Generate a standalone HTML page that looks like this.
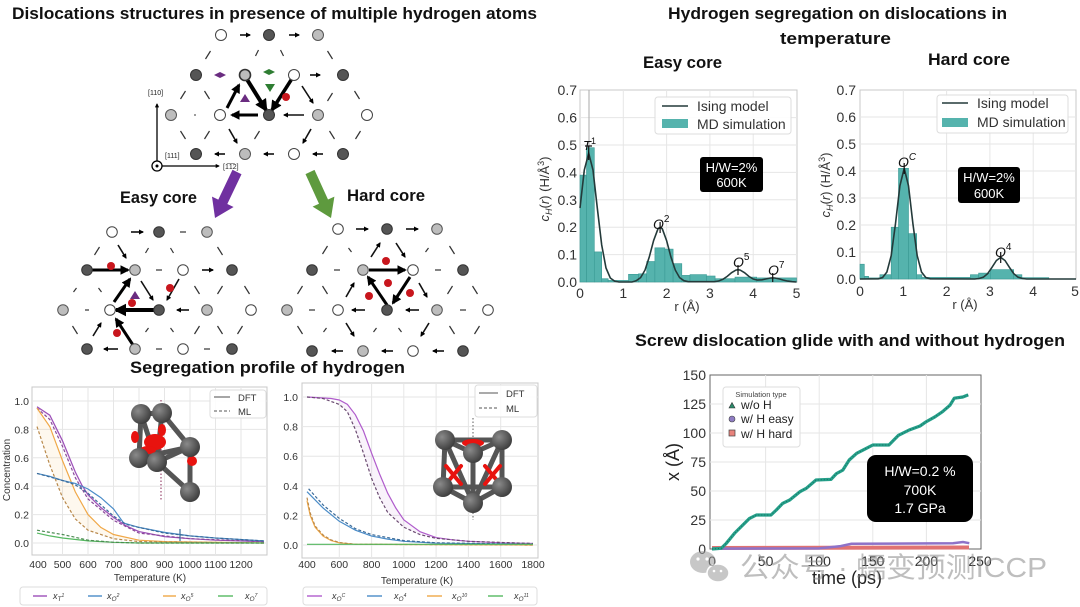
<!DOCTYPE html>
<html><head><meta charset="utf-8"><style>
html,body{margin:0;padding:0;background:#fff;}
svg{display:block;font-family:"Liberation Sans","Noto Sans CJK SC",sans-serif;}
.w{fill:#fff;stroke:#444;stroke-width:1}
.d{fill:#555;stroke:#333;stroke-width:1}
.l{fill:#bdbdbd;stroke:#555;stroke-width:1}
.s{stroke:#333;stroke-width:1.2;fill:none}
.t{stroke:#000;stroke-width:3;fill:none;marker-end:url(#ah)}
.m{stroke:#111;stroke-width:1.6;fill:none;marker-end:url(#ah)}
.g{stroke:#e6e6e6;stroke-width:1;fill:none}
.tk{font-size:14px;fill:#333}
.tb{font-size:10.5px;fill:#333}
.ttl{font-weight:bold;font-size:17px;fill:#111}
</style></head><body>
<svg width="1080" height="607" viewBox="0 0 1080 607" xmlns="http://www.w3.org/2000/svg">
<defs>
<marker id="ah" viewBox="0 0 10 10" refX="8" refY="5" markerWidth="3.2" markerHeight="3.2" orient="auto"><path d="M0,0 L10,5 L0,10 z" fill="#000"/></marker>
<radialGradient id="atom" cx="0.35" cy="0.35" r="0.7"><stop offset="0" stop-color="#8a8a8a"/><stop offset="1" stop-color="#3c3c3c"/></radialGradient>
</defs>
<rect width="1080" height="607" fill="#fff"/>

<!-- ============ TITLES ============ -->
<text class="ttl" x="12" y="19" textLength="525" lengthAdjust="spacingAndGlyphs">Dislocations  structures in presence of multiple hydrogen atoms</text>
<text class="ttl" x="668" y="19" textLength="339" lengthAdjust="spacingAndGlyphs">Hydrogen segregation on dislocations in</text>
<text class="ttl" x="780" y="44" textLength="111" lengthAdjust="spacingAndGlyphs">temperature</text>
<text class="ttl" x="643" y="68" textLength="79" lengthAdjust="spacingAndGlyphs">Easy core</text>
<text class="ttl" x="928" y="65" textLength="82" lengthAdjust="spacingAndGlyphs">Hard core</text>
<text class="ttl" x="120" y="203" textLength="77" lengthAdjust="spacingAndGlyphs">Easy core</text>
<text class="ttl" x="347" y="201" textLength="78" lengthAdjust="spacingAndGlyphs">Hard core</text>
<text class="ttl" x="130" y="373" textLength="275" lengthAdjust="spacingAndGlyphs">Segregation profile of hydrogen</text>
<text class="ttl" x="635" y="346" textLength="430" lengthAdjust="spacingAndGlyphs">Screw dislocation glide with and without hydrogen</text>

<!-- ============ TOP LATTICE ============ -->
<g>
<line class="m" x1="240" y1="35" x2="250" y2="35"/>
<line class="m" x1="289" y1="35" x2="299" y2="35"/>
<line class="s" x1="205.5" y1="59" x2="210.5" y2="51"/>
<line class="s" x1="255.5" y1="56" x2="258.5" y2="50"/>
<line class="s" x1="280.5" y1="50" x2="283.5" y2="56"/>
<line class="s" x1="327.5" y1="51" x2="332.5" y2="59"/>
<line class="m" x1="310" y1="75" x2="320" y2="75"/>
<line class="s" x1="180.5" y1="99" x2="185.5" y2="91"/>
<line class="s" x1="204.5" y1="91" x2="209.5" y2="99"/>
<line class="m" x1="302" y1="86" x2="313" y2="103"/>
<line class="s" x1="327.5" y1="101" x2="332.5" y2="93"/>
<line class="s" x1="354.5" y1="91" x2="359.5" y2="99"/>
<line class="t" x1="227" y1="108" x2="239" y2="85"/>
<line class="t" x1="243" y1="73" x2="266" y2="110" style="stroke-width:4"/>
<line class="t" x1="293" y1="77" x2="272" y2="110" style="stroke-width:3.5"/>
<line class="t" x1="258" y1="115" x2="232" y2="115"/>
<line class="m" x1="304" y1="115" x2="284" y2="115"/>
<circle cx="195" cy="115" r="0.9" fill="#555"/>
<line class="s" x1="180.5" y1="131" x2="185.5" y2="139"/>
<line class="s" x1="204.5" y1="139" x2="209.5" y2="131"/>
<line class="m" x1="229" y1="129" x2="237" y2="143"/>
<line class="s" x1="254.5" y1="139" x2="259.5" y2="131"/>
<line class="m" x1="311" y1="129" x2="303" y2="143"/>
<line class="s" x1="329.5" y1="131" x2="334.5" y2="139"/>
<line class="s" x1="355.5" y1="139" x2="360.5" y2="131"/>
<line class="m" x1="225" y1="154" x2="215" y2="154"/>
<line class="m" x1="274" y1="154" x2="264" y2="154"/>
<line class="m" x1="323" y1="154" x2="313" y2="154"/>
<path d="M214,75 L220,72 L226,75 L220,78 z" fill="#6a2c80"/>
<path d="M263,72 L269,69 L275,72 L269,75 z" fill="#2e7d32"/>
<path d="M265,84 L275,84 L270,92 z" fill="#2e7d32"/>
<path d="M240,102 L250,102 L245,94 z" fill="#6a2c80"/>
<circle cx="286" cy="97" r="4" fill="#c8161d"/>
<circle class="w" cx="221" cy="35" r="5.5"/><circle class="d" cx="269" cy="35" r="5.5"/><circle class="l" cx="318" cy="35" r="5.5"/>
<circle class="d" cx="196" cy="75" r="5.5"/><circle class="l" cx="245" cy="75" r="5.5" style="stroke:#333;stroke-width:1.6"/><circle class="w" cx="294" cy="75" r="5.5"/><circle class="d" cx="343" cy="75" r="5.5"/>
<circle class="l" cx="171" cy="115" r="5.5"/><circle class="w" cx="220" cy="115" r="5.5"/><circle class="d" cx="269" cy="115" r="5.5"/><circle class="l" cx="318" cy="115" r="5.5"/><circle class="w" cx="367" cy="115" r="5.5"/>
<circle class="d" cx="196" cy="154" r="5.5"/><circle class="l" cx="245" cy="154" r="5.5"/><circle class="w" cx="294" cy="154" r="5.5"/><circle class="d" cx="343" cy="154" r="5.5"/>
<line x1="157" y1="166" x2="157" y2="104" stroke="#000" stroke-width="1.3" marker-end="url(#ah)"/>
<line x1="157" y1="166" x2="219" y2="166" stroke="#000" stroke-width="1.3" marker-end="url(#ah)"/>
<circle cx="157" cy="166" r="5" fill="#fff" stroke="#000" stroke-width="1.3"/>
<circle cx="157" cy="166" r="1.5" fill="#000"/>
<text x="148" y="95" font-size="7" fill="#222">[110]</text>
<text x="165" y="158" font-size="7" fill="#222">[111]</text>
<text x="223" y="169" font-size="7" fill="#222">[1̅1̅2]</text>
</g>

<polygon points="241.5,174.2 227.3,204 233.6,207 215,218 212,196.6 218.3,199.6 232.5,169.8" fill="#7030a0"/>
<polygon points="314.5,169.9 328,199.5 334.4,196.6 331,218 312.6,206.6 319,203.7 305.5,174.1" fill="#5e9a3e"/>

<!-- ============ EASY CORE LATTICE ============ -->
<g>
<line class="m" x1="131" y1="232" x2="143" y2="232"/>
<line class="s" x1="180" y1="232" x2="186" y2="232"/>
<line class="s" x1="94.5" y1="255" x2="99.5" y2="247"/>
<line class="m" x1="118" y1="245" x2="126" y2="258"/>
<line class="s" x1="145.5" y1="253" x2="148.5" y2="248"/>
<line class="s" x1="170.5" y1="248" x2="173.5" y2="253"/>
<line class="s" x1="217.5" y1="247" x2="222.5" y2="255"/>
<line class="t" x1="92" y1="270" x2="128" y2="270"/>
<line class="s" x1="156" y1="270" x2="162" y2="270"/>
<line class="m" x1="202" y1="270" x2="213" y2="270"/>
<line class="s" x1="73.5" y1="292" x2="76.5" y2="288"/>
<line class="s" x1="98.5" y1="288" x2="101.5" y2="292"/>
<line class="t" x1="114" y1="302" x2="130" y2="279"/>
<line class="m" x1="141" y1="281" x2="153" y2="300"/>
<line class="m" x1="179" y1="279" x2="167" y2="300"/>
<line class="s" x1="194.5" y1="286" x2="199.5" y2="294"/>
<line class="s" x1="217.5" y1="294" x2="222.5" y2="286"/>
<line class="s" x1="244.5" y1="286" x2="249.5" y2="294"/>
<line class="s" x1="85" y1="310" x2="89" y2="310"/>
<line class="t" x1="156" y1="310" x2="116" y2="310" style="stroke-width:4"/>
<line class="m" x1="189" y1="310" x2="177" y2="310"/>
<line class="s" x1="72.5" y1="326" x2="77.5" y2="334"/>
<line class="m" x1="93" y1="336" x2="101" y2="323"/>
<line class="t" x1="133" y1="345" x2="116" y2="319"/>
<line class="s" x1="145.5" y1="332" x2="148.5" y2="328"/>
<line class="s" x1="170.5" y1="328" x2="173.5" y2="332"/>
<line class="s" x1="194.5" y1="334" x2="199.5" y2="326"/>
<line class="s" x1="217.5" y1="326" x2="222.5" y2="334"/>
<line class="s" x1="237.5" y1="334" x2="242.5" y2="326"/>
<line class="m" x1="118" y1="349" x2="104" y2="349"/>
<line class="s" x1="156" y1="349" x2="162" y2="349"/>
<line class="s" x1="204" y1="349" x2="210" y2="349"/>
<circle cx="111" cy="266" r="4" fill="#c8161d"/>
<circle cx="170" cy="288" r="4" fill="#c8161d"/>
<circle cx="132" cy="303" r="4" fill="#c8161d"/>
<circle cx="117" cy="333" r="4" fill="#c8161d"/>
<path d="M130,299 L140,299 L135,291 z" fill="#6a2c80"/>
<circle class="w" cx="112" cy="232" r="5.3"/><circle class="d" cx="159" cy="232" r="5.3"/><circle class="l" cx="207" cy="232" r="5.3"/>
<circle class="d" cx="87" cy="270" r="5.3"/><circle class="l" cx="135" cy="270" r="5.3"/><circle class="w" cx="183" cy="270" r="5.3"/><circle class="d" cx="232" cy="270" r="5.3"/>
<circle class="l" cx="63" cy="310" r="5.3"/><circle class="w" cx="110" cy="310" r="5.3"/><circle class="d" cx="159" cy="310" r="5.3"/><circle class="l" cx="207" cy="310" r="5.3"/><circle class="w" cx="251" cy="310" r="5.3"/>
<circle class="d" cx="87" cy="349" r="5.3"/><circle class="l" cx="135" cy="349" r="5.3"/><circle class="w" cx="183" cy="349" r="5.3"/><circle class="d" cx="232" cy="349" r="5.3"/>
</g>

<!-- ============ HARD CORE LATTICE ============ -->
<g>
<line class="m" x1="356" y1="229" x2="368" y2="229"/>
<line class="m" x1="406" y1="229" x2="418" y2="229"/>
<line class="s" x1="322.5" y1="254" x2="327.5" y2="246"/>
<line class="s" x1="348.5" y1="248" x2="351.5" y2="252"/>
<line class="m" x1="371" y1="257" x2="380" y2="243"/>
<line class="m" x1="396" y1="243" x2="405" y2="257"/>
<line class="s" x1="425.5" y1="252" x2="428.5" y2="248"/>
<line class="s" x1="449.5" y1="246" x2="454.5" y2="254"/>
<line class="s" x1="334" y1="270" x2="340" y2="270"/>
<line class="t" x1="369" y1="270" x2="405" y2="270"/>
<line class="s" x1="435" y1="270" x2="441" y2="270"/>
<line class="s" x1="297.5" y1="294" x2="302.5" y2="286"/>
<line class="s" x1="322.5" y1="286" x2="327.5" y2="294"/>
<line class="m" x1="346" y1="297" x2="354" y2="283"/>
<line class="t" x1="387" y1="305" x2="368" y2="277"/>
<line class="t" x1="410" y1="277" x2="393" y2="303"/>
<line class="m" x1="419" y1="283" x2="427" y2="297"/>
<line class="s" x1="447.5" y1="294" x2="452.5" y2="286"/>
<line class="s" x1="472.5" y1="286" x2="477.5" y2="294"/>
<line class="s" x1="309" y1="310" x2="315" y2="310"/>
<line class="m" x1="365" y1="310" x2="352" y2="310"/>
<line class="m" x1="419" y1="310" x2="406" y2="310"/>
<line class="s" x1="460" y1="310" x2="466" y2="310"/>
<line class="s" x1="297.5" y1="326" x2="302.5" y2="334"/>
<line class="s" x1="323.5" y1="332" x2="326.5" y2="328"/>
<line class="m" x1="346" y1="323" x2="354" y2="336"/>
<line class="s" x1="373.5" y1="332" x2="376.5" y2="328"/>
<line class="s" x1="398.5" y1="328" x2="401.5" y2="332"/>
<line class="m" x1="429" y1="323" x2="421" y2="336"/>
<line class="s" x1="449.5" y1="326" x2="454.5" y2="334"/>
<line class="s" x1="474.5" y1="334" x2="479.5" y2="326"/>
<line class="m" x1="343" y1="351" x2="332" y2="351"/>
<line class="m" x1="393" y1="351" x2="382" y2="351"/>
<line class="m" x1="444" y1="351" x2="433" y2="351"/>
<circle cx="386" cy="261" r="4" fill="#c8161d"/>
<circle cx="388" cy="283" r="4" fill="#c8161d"/>
<circle cx="369" cy="296" r="4" fill="#c8161d"/>
<circle cx="410" cy="293" r="4" fill="#c8161d"/>
<circle class="w" cx="338" cy="229" r="5.3"/><circle class="d" cx="387" cy="229" r="5.3"/><circle class="l" cx="437" cy="229" r="5.3"/>
<circle class="d" cx="312" cy="270" r="5.3"/><circle class="l" cx="363" cy="270" r="5.3"/><circle class="w" cx="413" cy="270" r="5.3"/><circle class="d" cx="463" cy="270" r="5.3"/>
<circle class="l" cx="287" cy="310" r="5.3"/><circle class="w" cx="338" cy="310" r="5.3"/><circle class="d" cx="387" cy="310" r="5.3"/><circle class="l" cx="437" cy="310" r="5.3"/><circle class="w" cx="488" cy="310" r="5.3"/>
<circle class="d" cx="312" cy="351" r="5.3"/><circle class="l" cx="363" cy="351" r="5.3"/><circle class="w" cx="413" cy="351" r="5.3"/><circle class="d" cx="463" cy="351" r="5.3"/>
</g>

<!-- ============ BOTTOM-LEFT CHART 1 ============ -->
<g>
<rect x="32" y="387" width="235" height="168" fill="#fff" stroke="#c8c8c8"/>
<g class="g">
<line x1="62.5" y1="387" x2="62.5" y2="555"/><line x1="88" y1="387" x2="88" y2="555"/><line x1="113.5" y1="387" x2="113.5" y2="555"/><line x1="139" y1="387" x2="139" y2="555"/><line x1="164.5" y1="387" x2="164.5" y2="555"/><line x1="190" y1="387" x2="190" y2="555"/><line x1="215.5" y1="387" x2="215.5" y2="555"/><line x1="241" y1="387" x2="241" y2="555"/>
<line x1="32" y1="401" x2="267" y2="401"/><line x1="32" y1="429.4" x2="267" y2="429.4"/><line x1="32" y1="457.8" x2="267" y2="457.8"/><line x1="32" y1="486.2" x2="267" y2="486.2"/><line x1="32" y1="514.6" x2="267" y2="514.6"/><line x1="32" y1="543" x2="267" y2="543"/>
</g>
<g class="tb" text-anchor="end">
<text x="29" y="405">1.0</text><text x="29" y="433.4">0.8</text><text x="29" y="461.8">0.6</text><text x="29" y="490.2">0.4</text><text x="29" y="518.6">0.2</text><text x="29" y="547">0.0</text>
</g>
<g class="tb" text-anchor="middle">
<text x="38" y="568">400</text><text x="62.5" y="568">500</text><text x="88" y="568">600</text><text x="113.5" y="568">700</text><text x="139" y="568">800</text><text x="164.5" y="568">900</text><text x="190" y="568">1000</text><text x="215.5" y="568">1100</text><text x="241" y="568">1200</text>
</g>
<text x="150" y="581" font-size="10" fill="#333" text-anchor="middle">Temperature (K)</text>
<text transform="translate(10,470) rotate(-90)" font-size="10" fill="#333" text-anchor="middle">Concentration</text>
<polygon points="37,408.1 49.8,426.6 62.5,460.6 75.3,491.9 88,514.6 100.8,527.4 113.5,534.5 139,540.2 139,541.6 113.5,538.7 88,530.2 75.3,518.9 62.5,497.6 49.8,464.9 37,426.6" fill="#f5a623" opacity="0.08"/>
<polygon points="37,406.7 49.8,415.2 62.5,440.8 75.3,472 88,494.7 113.5,517.4 139,531.6 139,533.1 113.5,520.3 88,499 75.3,477.7 62.5,446.4 49.8,419.5 37,408.1" fill="#b06ad0" opacity="0.08"/>
<g fill="none" stroke-width="1.2">
<path stroke="#9c4fb8" d="M37,406.7 L49.8,415.2 L62.5,440.8 L75.3,472 L81.7,484.8 L88,494.7 L100.8,507.5 L113.5,517.4 L126.3,526 L139,531.6 L164.5,536.6 L190,538.7 L215.5,540.2 L264,541.6"/>
<path stroke="#8a4a9a" stroke-dasharray="3,2" d="M37,408.1 L49.8,419.5 L62.5,446.4 L75.3,477.7 L88,499 L113.5,520.3 L139,533.1 L190,538.7 L264,541.6"/>
<path stroke="#f0a848" d="M37,408.1 L49.8,426.6 L62.5,460.6 L75.3,491.9 L88,514.6 L100.8,527.4 L113.5,534.5 L139,540.2 L164.5,541.6 L264,543"/>
<path stroke="#b8884a" stroke-dasharray="3,2" d="M37,426.6 L49.8,464.9 L62.5,497.6 L75.3,518.9 L88,530.2 L113.5,538.7 L139,541.6 L264,543"/>
<path stroke="#4a8cc8" d="M37,473.4 L49.8,476.3 L62.5,480.5 L75.3,483.4 L88,489 L100.8,497.6 L113.5,508.9 L123.7,523.1 L139,527.4 L164.5,532.4 L190,535.9 L215.5,538 L264,540.9"/>
<path stroke="#3a6a98" stroke-dasharray="3,2" d="M37,473.4 L62.5,480.5 L75.3,484.8 L88,493.3 L100.8,504.7 L113.5,516 L126.3,524.5 L139,527.4 L164.5,533.1 L190,535.9 L215.5,538 L264,540.9"/>
<path stroke="#55b860" d="M37,533.1 L49.8,535.9 L62.5,538 L88,540.9 L113.5,542.3 L139,543 L264,543"/>
<path stroke="#4a8a50" stroke-dasharray="3,2" d="M37,530.2 L49.8,532.4 L62.5,534.5 L75.3,537.3 L88,540.2 L113.5,542.3 L139,543 L264,543"/>
<line x1="180" y1="529" x2="180" y2="541" stroke="#3a6a98"/>
</g>
<line x1="161" y1="400" x2="161" y2="500" stroke="#9a4a70" stroke-width="1.2" stroke-dasharray="1.5,2"/>
<g stroke="#555" stroke-width="5" stroke-linecap="round">
<line x1="141" y1="414" x2="162" y2="413"/><line x1="141" y1="414" x2="139" y2="458"/><line x1="141" y1="414" x2="157" y2="462"/><line x1="162" y1="413" x2="190" y2="447"/><line x1="162" y1="413" x2="157" y2="462"/><line x1="139" y1="458" x2="157" y2="462"/><line x1="190" y1="447" x2="157" y2="462"/><line x1="190" y1="447" x2="190" y2="492"/><line x1="157" y1="462" x2="190" y2="492"/><line x1="139" y1="458" x2="190" y2="447"/>
</g>
<g fill="#e8130f">
<ellipse cx="155" cy="442" rx="11" ry="8"/><ellipse cx="148" cy="450" rx="8" ry="4"/><ellipse cx="135" cy="437" rx="4" ry="6"/><ellipse cx="192" cy="461" rx="5" ry="5"/><ellipse cx="162" cy="430" rx="4" ry="6"/>
</g>
<g fill="url(#atom)">
<circle cx="141" cy="414" r="10"/><circle cx="162" cy="413" r="10"/><circle cx="190" cy="447" r="10"/><circle cx="139" cy="458" r="10"/><circle cx="157" cy="462" r="10"/><circle cx="190" cy="492" r="10"/>
</g>
<rect x="210" y="390" width="56" height="28" rx="3" fill="#fff" fill-opacity="0.85" stroke="#ddd"/>
<line x1="214" y1="397" x2="230" y2="397" stroke="#777" stroke-width="1.3"/>
<line x1="214" y1="411" x2="230" y2="411" stroke="#777" stroke-width="1.3" stroke-dasharray="3,2"/>
<text x="238" y="401" font-size="9.5" fill="#333">DFT</text>
<text x="238" y="415" font-size="9.5" fill="#333">ML</text>
<rect x="20" y="587" width="247" height="18" rx="3" fill="#fff" stroke="#ddd"/>
<g stroke-width="1.4">
<line x1="33" y1="596" x2="47" y2="596" stroke="#9c4fb8"/><line x1="88" y1="596" x2="102" y2="596" stroke="#4a8cc8"/><line x1="163" y1="596" x2="176" y2="596" stroke="#f0a848"/><line x1="218" y1="596" x2="233" y2="596" stroke="#55b860"/>
</g>
<g font-size="9" fill="#333" font-style="italic">
<text x="53" y="599">x<tspan font-size="6.5" dy="2">T</tspan><tspan font-size="5" dy="-4">1</tspan></text>
<text x="107" y="599">x<tspan font-size="6.5" dy="2">O</tspan><tspan font-size="5" dy="-4">2</tspan></text>
<text x="181" y="599">x<tspan font-size="6.5" dy="2">O</tspan><tspan font-size="5" dy="-4">5</tspan></text>
<text x="245" y="599">x<tspan font-size="6.5" dy="2">O</tspan><tspan font-size="5" dy="-4">7</tspan></text>
</g>
</g>

<!-- ============ BOTTOM-LEFT CHART 2 ============ -->
<g>
<rect x="302" y="383" width="236" height="175" fill="#fff" stroke="#c8c8c8"/>
<g class="g">
<line x1="339.3" y1="383" x2="339.3" y2="558"/><line x1="371.6" y1="383" x2="371.6" y2="558"/><line x1="403.8" y1="383" x2="403.8" y2="558"/><line x1="436.1" y1="383" x2="436.1" y2="558"/><line x1="468.4" y1="383" x2="468.4" y2="558"/><line x1="500.7" y1="383" x2="500.7" y2="558"/>
<line x1="302" y1="397" x2="538" y2="397"/><line x1="302" y1="426.6" x2="538" y2="426.6"/><line x1="302" y1="456.2" x2="538" y2="456.2"/><line x1="302" y1="485.8" x2="538" y2="485.8"/><line x1="302" y1="515.4" x2="538" y2="515.4"/><line x1="302" y1="545" x2="538" y2="545"/>
</g>
<g class="tb" text-anchor="end">
<text x="298" y="401">1.0</text><text x="298" y="430.6">0.8</text><text x="298" y="460.2">0.6</text><text x="298" y="489.8">0.4</text><text x="298" y="519.4">0.2</text><text x="298" y="549">0.0</text>
</g>
<g class="tb" text-anchor="middle">
<text x="307" y="568">400</text><text x="339.3" y="568">600</text><text x="371.6" y="568">800</text><text x="403.8" y="568">1000</text><text x="436.1" y="568">1200</text><text x="468.4" y="568">1400</text><text x="500.7" y="568">1600</text><text x="533" y="568">1800</text>
</g>
<text x="417" y="584" font-size="10" fill="#333" text-anchor="middle">Temperature (K)</text>
<polygon points="339.3,400 347.4,404.4 355.4,414.8 363.5,431 371.6,453.2 379.6,474 387.7,493.2 395.8,508 403.8,519.8 420,531.7 436.1,537.6 436.1,538.3 420,534.6 403.8,527.2 387.7,512.4 379.6,497.6 371.6,478.4 363.5,453.2 355.4,429.6 347.4,411.8 339.3,404.4" fill="#b06ad0" opacity="0.08"/>
<g fill="none" stroke-width="1.2">
<path stroke="#b05ccc" d="M307,397 L331.2,398.5 L339.3,400 L347.4,404.4 L355.4,414.8 L363.5,431 L371.6,453.2 L379.6,474 L387.7,493.2 L395.8,508 L403.8,519.8 L420,531.7 L436.1,537.6 L452.3,539.8 L468.4,541.3 L500.7,542.8 L533,543.5"/>
<path stroke="#6a4a70" stroke-dasharray="3,2" d="M307,397 L323.1,398.5 L339.3,404.4 L347.4,411.8 L355.4,429.6 L363.5,453.2 L371.6,478.4 L379.6,497.6 L387.7,512.4 L403.8,527.2 L420,534.6 L436.1,538.3 L468.4,541.3 L533,543.5"/>
<path stroke="#4a8cc8" d="M307,491.7 L323.1,508 L339.3,521.3 L355.4,530.2 L371.6,536.1 L387.7,539.1 L403.8,541.3 L436.1,543.2 L533,544.3"/>
<path stroke="#3a6a98" stroke-dasharray="3,2" d="M308.6,488.8 L323.1,505 L339.3,518.4 L355.4,528.7 L371.6,534.6 L403.8,540.6 L436.1,542.8 L533,544.3"/>
<path stroke="#f0a848" d="M307,500.6 L310.2,515.4 L315.1,527.2 L323.1,536.1 L331.2,540.6 L339.3,542.8 L355.4,544.3 L533,545"/>
<path stroke="#b8884a" stroke-dasharray="3,2" d="M307,497.6 L310.2,513 L315.1,526 L323.1,535 L331.2,540 L339.3,542.5 L355.4,544.3 L533,545"/>
<path stroke="#55b860" d="M307,544.3 L533,544.3"/>
</g>
<line x1="473" y1="418" x2="473" y2="520" stroke="#777" stroke-width="1.2" stroke-dasharray="1.5,2"/>
<g stroke="#555" stroke-width="5" stroke-linecap="round">
<line x1="445" y1="440" x2="502" y2="440"/><line x1="445" y1="440" x2="443" y2="487"/><line x1="502" y1="440" x2="502" y2="487"/><line x1="443" y1="487" x2="502" y2="487"/><line x1="445" y1="440" x2="473" y2="453"/><line x1="502" y1="440" x2="473" y2="453"/><line x1="443" y1="487" x2="473" y2="503"/><line x1="502" y1="487" x2="473" y2="503"/><line x1="473" y1="453" x2="473" y2="503"/><line x1="445" y1="440" x2="473" y2="503"/><line x1="502" y1="440" x2="473" y2="503"/>
</g>
<g stroke="#e8130f" stroke-width="4" stroke-linecap="round">
<line x1="446" y1="466" x2="461" y2="484"/><line x1="446" y1="484" x2="461" y2="466"/><line x1="485" y1="466" x2="500" y2="484"/><line x1="485" y1="484" x2="500" y2="466"/>
</g>
<ellipse cx="473" cy="443" rx="11" ry="4" fill="#e8130f"/>
<g fill="url(#atom)">
<circle cx="445" cy="440" r="10"/><circle cx="502" cy="440" r="10"/><circle cx="443" cy="487" r="10"/><circle cx="502" cy="487" r="10"/><circle cx="473" cy="453" r="10"/><circle cx="473" cy="503" r="10"/>
</g>
<rect x="475" y="385" width="62" height="32" rx="3" fill="#fff" fill-opacity="0.85" stroke="#ddd"/>
<line x1="479" y1="393" x2="498" y2="393" stroke="#777" stroke-width="1.3"/>
<line x1="479" y1="408" x2="498" y2="408" stroke="#777" stroke-width="1.3" stroke-dasharray="3,2"/>
<text x="506" y="397" font-size="9.5" fill="#333">DFT</text>
<text x="506" y="412" font-size="9.5" fill="#333">ML</text>
<rect x="303" y="587" width="234" height="18" rx="3" fill="#fff" stroke="#ddd"/>
<g stroke-width="1.4">
<line x1="307" y1="596" x2="322" y2="596" stroke="#b05ccc"/><line x1="367" y1="596" x2="382" y2="596" stroke="#4a8cc8"/><line x1="427" y1="596" x2="442" y2="596" stroke="#f0a848"/><line x1="488" y1="596" x2="503" y2="596" stroke="#55b860"/>
</g>
<g font-size="9" fill="#333" font-style="italic">
<text x="332" y="599">x<tspan font-size="6.5" dy="2">O</tspan><tspan font-size="5" dy="-4">C</tspan></text>
<text x="394" y="599">x<tspan font-size="6.5" dy="2">O</tspan><tspan font-size="5" dy="-4">4</tspan></text>
<text x="452" y="599">x<tspan font-size="6.5" dy="2">O</tspan><tspan font-size="5" dy="-4">10</tspan></text>
<text x="514" y="599">x<tspan font-size="6.5" dy="2">O</tspan><tspan font-size="5" dy="-4">11</tspan></text>
</g>
</g>

<!-- ============ EASY CORE CHART ============ -->
<g>
<rect x="580" y="90" width="217" height="192" fill="#fff" stroke="#c8c8c8"/>
<g class="g">
<line x1="623.3" y1="90" x2="623.3" y2="282"/><line x1="666.6" y1="90" x2="666.6" y2="282"/><line x1="709.9" y1="90" x2="709.9" y2="282"/><line x1="753.2" y1="90" x2="753.2" y2="282"/>
<line x1="580" y1="254.6" x2="797" y2="254.6"/><line x1="580" y1="227.2" x2="797" y2="227.2"/><line x1="580" y1="199.8" x2="797" y2="199.8"/><line x1="580" y1="172.4" x2="797" y2="172.4"/><line x1="580" y1="145" x2="797" y2="145"/><line x1="580" y1="117.6" x2="797" y2="117.6"/>
</g>
<line x1="589" y1="90" x2="589" y2="282" stroke="#aaa" stroke-width="1"/>
<g fill="#55b3ad" stroke="#3a9994" stroke-width="0.6">
<rect x="580" y="175.1" width="6.5" height="106.9"/><rect x="586.5" y="147.7" width="7.8" height="134.3"/><rect x="594.3" y="251.9" width="7.4" height="30.1"/><rect x="601.7" y="278.7" width="6.5" height="3.3"/><rect x="608.1" y="280.4" width="20.4" height="1.6"/><rect x="628.5" y="274.3" width="10" height="7.7"/><rect x="638.5" y="273.8" width="8.2" height="8.2"/><rect x="646.7" y="261.5" width="8.2" height="20.5"/><rect x="654.9" y="247.8" width="10" height="34.2"/><rect x="664.9" y="249.1" width="8.2" height="32.9"/><rect x="673.1" y="263.6" width="8.7" height="18.4"/><rect x="681.8" y="275.4" width="8.2" height="6.6"/><rect x="690" y="274.6" width="16.5" height="7.4"/><rect x="706.5" y="276" width="8.6" height="6"/><rect x="715.1" y="278.7" width="19.9" height="3.3"/><rect x="735" y="277.1" width="21.7" height="4.9"/><rect x="756.7" y="277.9" width="39.8" height="4.1"/>
</g>
<path fill="none" stroke="#243a3a" stroke-width="1.6" d="M580,208 L584.3,170 L588.7,153.2 L593,170 L597.3,208 L601.7,245 L606,268 L610.3,278 L614.6,281.1 L619,282 L632,282 L636.3,280.7 L640.6,277.6 L645,270.1 L649.3,256.9 L653.6,240.6 L658,228.8 L660.1,227.2 L662.3,228.8 L666.6,240.6 L670.9,256.9 L675.3,270.1 L679.6,277.6 L683.9,280.7 L688.3,281.7 L714.2,281.7 L718.6,281 L722.9,279.3 L727.2,276.4 L731.6,272.7 L735.9,270.1 L738,269.7 L740.2,270.1 L744.5,272.7 L748.9,276.4 L753.2,279 L757.5,280.1 L761.9,279.8 L766.2,278.9 L770.5,278 L772.7,277.9 L774.9,278 L779.2,278.9 L783.5,280.1 L787.8,281.1 L792.2,281.7 L796.5,282"/>
<g stroke="#111" stroke-width="1.2">
<line x1="588.7" y1="146" x2="588.7" y2="160"/><line x1="585" y1="146" x2="592" y2="146"/>
<line x1="660.1" y1="222" x2="660.1" y2="233"/><line x1="738" y1="265" x2="738" y2="275"/><line x1="772.7" y1="273" x2="772.7" y2="282"/>
</g>
<g font-size="14" fill="#111" font-style="italic">
<text x="583" y="150" font-size="13">T<tspan font-size="9" dy="-6" font-style="normal">1</tspan></text>
<text x="653" y="229">O<tspan font-size="10" dy="-7" font-style="normal">2</tspan></text>
<text x="733" y="267">O<tspan font-size="10" dy="-7" font-style="normal">5</tspan></text>
<text x="768" y="275">O<tspan font-size="10" dy="-7" font-style="normal">7</tspan></text>
</g>
<g class="tk" text-anchor="end">
<text x="577" y="287">0.0</text><text x="577" y="259.6">0.1</text><text x="577" y="232.2">0.2</text><text x="577" y="204.8">0.3</text><text x="577" y="177.4">0.4</text><text x="577" y="150">0.5</text><text x="577" y="122.6">0.6</text><text x="577" y="95.2">0.7</text>
</g>
<g class="tk" text-anchor="middle">
<text x="580" y="298">0</text><text x="623.3" y="298">1</text><text x="666.6" y="298">2</text><text x="709.9" y="298">3</text><text x="753.2" y="298">4</text><text x="796.5" y="298">5</text>
</g>
<text x="687" y="311" font-size="13" fill="#333" text-anchor="middle">r (Å)</text>
<text transform="translate(549,189) rotate(-90)" font-size="13" fill="#333" text-anchor="middle"><tspan font-style="italic">c</tspan><tspan font-size="9" dy="3" font-style="italic">H</tspan><tspan dy="-3">(</tspan><tspan font-style="italic">r</tspan>) (H/Å<tspan font-size="9" dy="-5">3</tspan><tspan dy="5">)</tspan></text>
<rect x="655" y="97" width="136" height="37" rx="3" fill="#fff" fill-opacity="0.9" stroke="#ddd"/>
<line x1="662" y1="106" x2="688" y2="106" stroke="#243a3a" stroke-width="1.6"/>
<rect x="662" y="119" width="26" height="9" fill="#55b3ad"/>
<text x="697" y="111" font-size="14" fill="#333">Ising model</text>
<text x="697" y="129" font-size="14" fill="#333">MD simulation</text>
<rect x="700" y="157" width="63" height="35" rx="3" fill="#000"/>
<text x="731.5" y="172" font-size="13" fill="#fff" text-anchor="middle">H/W=2%</text>
<text x="731.5" y="187" font-size="13" fill="#fff" text-anchor="middle">600K</text>
</g>

<!-- ============ HARD CORE CHART ============ -->
<g>
<rect x="860" y="90" width="216" height="189" fill="#fff" stroke="#c8c8c8"/>
<g class="g">
<line x1="903.3" y1="90" x2="903.3" y2="279"/><line x1="946.6" y1="90" x2="946.6" y2="279"/><line x1="989.9" y1="90" x2="989.9" y2="279"/><line x1="1033.2" y1="90" x2="1033.2" y2="279"/>
<line x1="860" y1="252" x2="1076" y2="252"/><line x1="860" y1="225" x2="1076" y2="225"/><line x1="860" y1="198" x2="1076" y2="198"/><line x1="860" y1="171" x2="1076" y2="171"/><line x1="860" y1="144" x2="1076" y2="144"/><line x1="860" y1="117" x2="1076" y2="117"/>
</g>
<g fill="#55b3ad" stroke="#3a9994" stroke-width="0.6">
<rect x="860" y="264.2" width="4.3" height="14.8"/><rect x="864.3" y="276.3" width="4.3" height="2.7"/><rect x="868.7" y="277.9" width="11.2" height="1.1"/><rect x="879.9" y="274.7" width="11.3" height="4.3"/><rect x="891.2" y="227.2" width="7.3" height="51.8"/><rect x="898.5" y="168.3" width="10" height="110.7"/><rect x="908.5" y="233.6" width="8.2" height="45.4"/><rect x="916.7" y="274.7" width="5.2" height="4.3"/><rect x="921.9" y="277.4" width="48.5" height="1.6"/><rect x="970.4" y="274.7" width="8.2" height="4.3"/><rect x="978.6" y="273.1" width="11.7" height="5.9"/><rect x="990.3" y="269.6" width="23.4" height="9.4"/><rect x="1013.7" y="274.7" width="8.2" height="4.3"/><rect x="1021.9" y="277.6" width="26.9" height="1.4"/>
</g>
<path fill="none" stroke="#243a3a" stroke-width="1.6" d="M860,279 L878.3,278.8 L882.6,277.5 L886.9,272 L891.2,255.7 L895.5,223.6 L899.9,185.8 L904.2,168.3 L908.5,185.8 L912.9,223.6 L917.2,255.7 L921.5,272 L925.8,277.5 L930.2,278.8 L974.7,279 L979,278.5 L983.4,277.2 L987.7,273.6 L992,267.3 L996.4,260.5 L1000.7,257.4 L1005,260.5 L1009.4,267.3 L1013.7,273.6 L1018,277.2 L1022.4,278.5 L1026.7,279 L1076,279"/>
<g stroke="#111" stroke-width="1.2">
<line x1="904.2" y1="163" x2="904.2" y2="174"/><line x1="1000.7" y1="252" x2="1000.7" y2="263"/>
</g>
<g font-size="14" fill="#111" font-style="italic">
<text x="898" y="167">O<tspan font-size="10" dy="-7">C</tspan></text>
<text x="995" y="257">O<tspan font-size="10" dy="-7" font-style="normal">4</tspan></text>
</g>
<g class="tk" text-anchor="end">
<text x="856" y="284">0.0</text><text x="856" y="257">0.1</text><text x="856" y="230">0.2</text><text x="856" y="203">0.3</text><text x="856" y="176">0.4</text><text x="856" y="149">0.5</text><text x="856" y="122">0.6</text><text x="856" y="95">0.7</text>
</g>
<g class="tk" text-anchor="middle">
<text x="860" y="296">0</text><text x="903.3" y="296">1</text><text x="946.6" y="296">2</text><text x="989.9" y="296">3</text><text x="1033.2" y="296">4</text><text x="1075" y="296">5</text>
</g>
<text x="965" y="309" font-size="13" fill="#333" text-anchor="middle">r (Å)</text>
<text transform="translate(830,185) rotate(-90)" font-size="13" fill="#333" text-anchor="middle"><tspan font-style="italic">c</tspan><tspan font-size="9" dy="3" font-style="italic">H</tspan><tspan dy="-3">(</tspan><tspan font-style="italic">r</tspan>) (H/Å<tspan font-size="9" dy="-5">3</tspan><tspan dy="5">)</tspan></text>
<rect x="937" y="95" width="131" height="38" rx="3" fill="#fff" fill-opacity="0.9" stroke="#ddd"/>
<line x1="942" y1="103" x2="968" y2="103" stroke="#243a3a" stroke-width="1.6"/>
<rect x="942" y="118" width="26" height="9" fill="#55b3ad"/>
<text x="977" y="108" font-size="14" fill="#333">Ising model</text>
<text x="977" y="127" font-size="14" fill="#333">MD simulation</text>
<rect x="958" y="167" width="62" height="36" rx="3" fill="#000"/>
<text x="989" y="182" font-size="13" fill="#fff" text-anchor="middle">H/W=2%</text>
<text x="989" y="198" font-size="13" fill="#fff" text-anchor="middle">600K</text>
</g>

<!-- ============ SCREW GLIDE CHART ============ -->
<g>
<rect x="710" y="375" width="271" height="174" fill="#fff" stroke="#666" stroke-width="1"/>
<g class="g">
<line x1="765.6" y1="375" x2="765.6" y2="549"/><line x1="819.2" y1="375" x2="819.2" y2="549"/><line x1="872.8" y1="375" x2="872.8" y2="549"/><line x1="926.4" y1="375" x2="926.4" y2="549"/>
<line x1="710" y1="520" x2="981" y2="520"/><line x1="710" y1="491" x2="981" y2="491"/><line x1="710" y1="462" x2="981" y2="462"/><line x1="710" y1="433" x2="981" y2="433"/><line x1="710" y1="404" x2="981" y2="404"/>
</g>
<path fill="none" stroke="#e07272" stroke-width="4" d="M712,548 L969,547.5"/>
<path fill="none" stroke="#8e72c8" stroke-width="2.5" d="M712,548.6 L819.2,548.4 L840.6,546.1 L851.4,543.8 L953,543.2 L963,542 L969.3,543.2"/>
<path fill="none" stroke="#25a08a" stroke-width="3.2" stroke-linejoin="round" d="M712,549 L721.3,548.3 L726.4,543.2 L734.5,533.3 L749.5,518.4 L756.4,515 L771,515 L776.3,510 L782.8,503.3 L789.7,500 L799.9,491.7 L806.3,488.3 L816,480 L831,479.4 L836.4,473.6 L842.8,470.1 L849.2,460 L856.7,453.3 L866.4,448.3 L872.8,445 L888.9,445 L898.5,435.3 L909.2,430 L920,426 L926.4,421.6 L935,416.8 L942.5,411.7 L950,405.2 L954.3,398.2 L962.8,397 L968.2,394.9"/>
<path fill="none" stroke="#1a6e60" stroke-width="1" stroke-dasharray="1,2" d="M712,549 L721.3,548.3 L726.4,543.2 L734.5,533.3 L749.5,518.4 L756.4,515 L771,515 L776.3,510 L782.8,503.3 L789.7,500 L799.9,491.7 L806.3,488.3 L816,480 L831,479.4 L836.4,473.6 L842.8,470.1 L849.2,460 L856.7,453.3 L866.4,448.3 L872.8,445 L888.9,445 L898.5,435.3 L909.2,430 L920,426 L926.4,421.6 L935,416.8 L942.5,411.7 L950,405.2 L954.3,398.2 L962.8,397 L968.2,394.9"/>
<g class="tk" text-anchor="end">
<text x="706" y="554">0</text><text x="706" y="525">25</text><text x="706" y="496">50</text><text x="706" y="467">75</text><text x="706" y="438">100</text><text x="706" y="409">125</text><text x="706" y="380">150</text>
</g>
<g class="tk" text-anchor="middle">
<text x="712" y="566">0</text><text x="765.6" y="566">50</text><text x="819.2" y="566">100</text><text x="872.8" y="566">150</text><text x="926.4" y="566">200</text><text x="980" y="566">250</text>
</g>
<text x="847" y="584" font-size="18" fill="#222" text-anchor="middle">time (ps)</text>
<text transform="translate(679,462) rotate(-90)" font-size="18" fill="#222" text-anchor="middle">x (Å)</text>
<rect x="723" y="387" width="77" height="60" rx="3" fill="#fff" stroke="#ddd"/>
<text x="761" y="397" font-size="7.5" fill="#444" text-anchor="middle">Simulation type</text>
<path d="M729,408 L735,408 L732,402.5 z" fill="#2a8a6a" stroke="#333" stroke-width="0.6"/>
<circle cx="732" cy="419" r="3" fill="#8e7cc3" stroke="#444" stroke-width="0.6"/>
<rect x="729" y="430" width="6" height="6" fill="#e8837c" stroke="#444" stroke-width="0.7"/>
<text x="741" y="409" font-size="12" fill="#222">w/o H</text>
<text x="741" y="423" font-size="12" fill="#222">w/ H easy</text>
<text x="741" y="438" font-size="12" fill="#222">w/ H hard</text>
<rect x="867" y="455" width="106" height="67" rx="9" fill="#000"/>
<text x="920" y="476" font-size="14" fill="#fff" text-anchor="middle">H/W=0.2 %</text>
<text x="920" y="495" font-size="14" fill="#fff" text-anchor="middle">700K</text>
<text x="920" y="513" font-size="14" fill="#fff" text-anchor="middle">1.7 GPa</text>
</g>

<!-- ============ WATERMARK ============ -->
<g opacity="0.55">
<ellipse cx="703" cy="562" rx="13" ry="11" fill="#9a9a9a"/>
<ellipse cx="718" cy="573" rx="11" ry="9" fill="#9a9a9a" stroke="#fff" stroke-width="1.5"/>
<circle cx="698" cy="559" r="1.6" fill="#fff"/><circle cx="707" cy="559" r="1.6" fill="#fff"/>
<circle cx="714" cy="571" r="1.3" fill="#fff"/><circle cx="721" cy="571" r="1.3" fill="#fff"/>
<text x="740" y="577" font-size="28" fill="#8a8a8a" font-family="'Liberation Sans','Noto Sans CJK SC',sans-serif" textLength="307" lengthAdjust="spacingAndGlyphs">公众号 · 蠕变预测ICCP</text>
</g>
</svg>
</body></html>
